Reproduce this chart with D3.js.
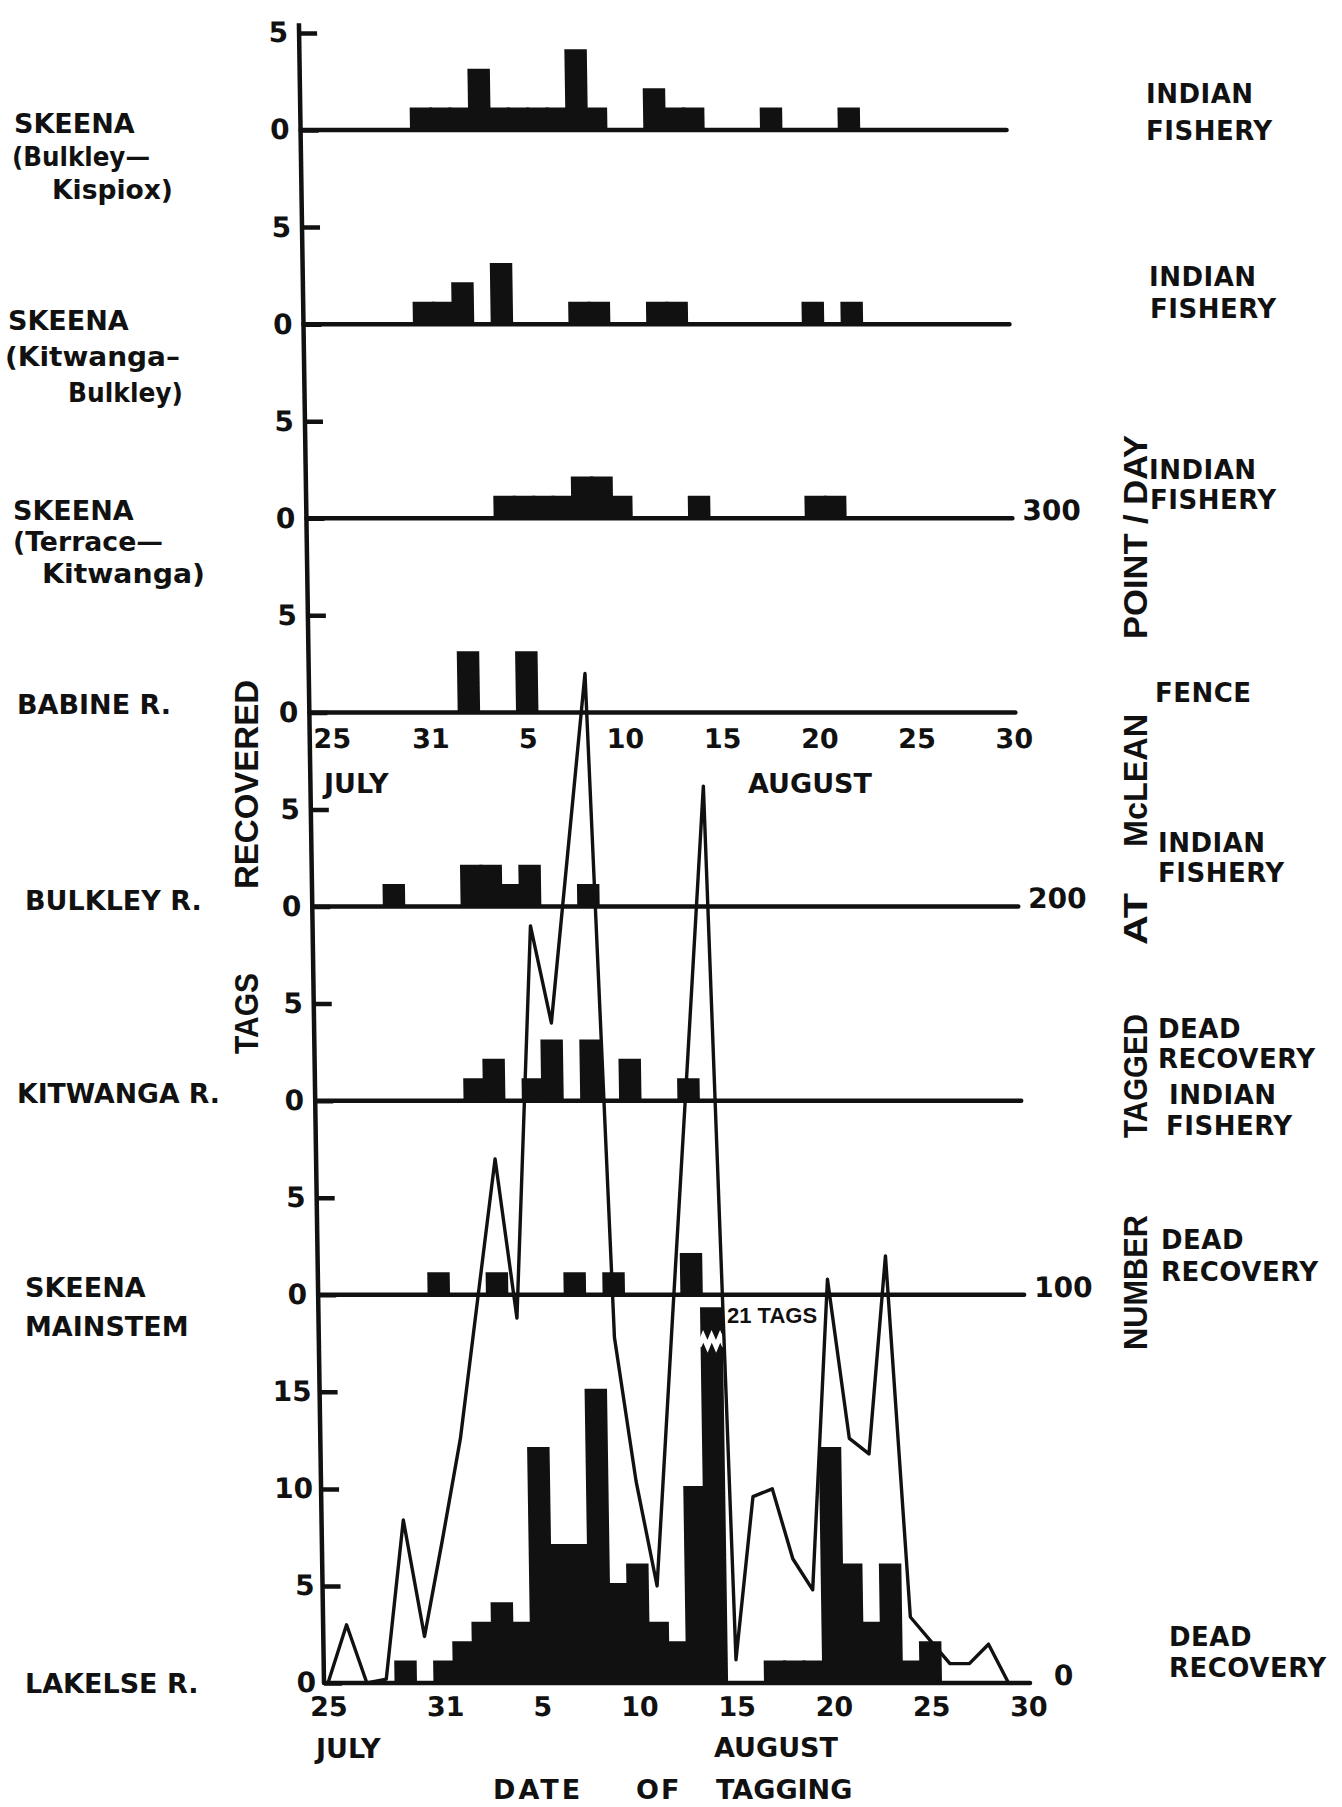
<!DOCTYPE html>
<html><head><meta charset="utf-8">
<script src="https://cdn.jsdelivr.net/npm/d3@7"></script>
<style>body{margin:0;background:#fff} svg{display:block}</style>
</head><body><svg id="chart" width="1342" height="1807"></svg>
<script>
// ================= DATA =================
// categories: dates of tagging (index 0 = July 25 ... index 36 = August 30)
const dates = ["Jul 25","Jul 26","Jul 27","Jul 28","Jul 29","Jul 30","Jul 31",
  "Aug 1","Aug 2","Aug 3","Aug 4","Aug 5","Aug 6","Aug 7","Aug 8","Aug 9","Aug 10",
  "Aug 11","Aug 12","Aug 13","Aug 14","Aug 15","Aug 16","Aug 17","Aug 18","Aug 19","Aug 20",
  "Aug 21","Aug 22","Aug 23","Aug 24","Aug 25","Aug 26","Aug 27","Aug 28","Aug 29","Aug 30"];
const tickDays   = [0, 6, 11, 16, 21, 26, 31, 36];
const tickLabels = ["25","31","5","10","15","20","25","30"];

// tags recovered, by date of tagging (day index into dates, count)
const kispioxDays = [6,7,8,9,10,11,12,13,14,15,18,19,20,24,28];
const kispioxTags = [1,1,1,3,1,1,1,1,4,1,2,1,1,1,1];
const kitBulkDays = [6,7,8,10,14,15,18,19,26,28];
const kitBulkTags = [1,1,2,3,1,1,1,1,1,1];
const terraceDays = [10,11,12,13,14,15,16,20,26,27];
const terraceTags = [1,1,1,1,2,2,1,1,1,1];
const babineDays  = [8,11];
const babineTags  = [3,3];
const bulkleyDays = [4,8,9,10,11,14];
const bulkleyTags = [1,2,2,1,2,1];
const kitwangaDays = [8,9,11,12,14,16,19];
const kitwangaTags = [1,2,1,3,3,2,1];
const mainstemDays = [6,9,13,15,19];
const mainstemTags = [1,1,1,1,2];
const lakelseDays = [4,6,7,8,9,10,11,12,13,14,15,16,17,18,19,20,23,24,25,26,27,28,29,30,31];
const lakelseTags = [1,1,2,3,4,3,12,7,7,15,5,6,3,2,10,21,1,1,1,12,6,3,6,1,2];

// number tagged per day at McLean Point (right scale), day index 0..35
const taggedPerDay = [0,15,0,1,42,12,37,63,99,135,94,195,170,215,260,89,52,25,94,162,
                      231,6,48,50,32,24,104,63,59,110,17,11,5,5,10,0];
const taggedTicks = [0,100,200,300];

// ================= LAYOUT =================
const W = 1342, H = 1807;
const svg = d3.select("#chart");
svg.append("rect").attr("width", W).attr("height", H).attr("fill", "#fff");

const x = d3.scaleLinear().domain([0, 36]).range([328, 1028]);
const y = d3.scaleLinear().domain([0, 80]).range([1683, 130]);        // stacked tag-count scale
const yTagged = d3.scaleLinear().domain([0, 400]).range([1683, 130]); // number tagged / day
const dayW = x(1) - x(0);
const axisX = x(0) - 4;
const INK = "#111";
const FONT = "'DejaVu Sans', 'Liberation Sans', sans-serif";
const NARROW = "'Liberation Sans Narrow', 'Liberation Sans', sans-serif";

const panels = [
  {days: kispioxDays, tags: kispioxTags, base: 80, ticks: [0,5]},
  {days: kitBulkDays, tags: kitBulkTags, base: 70, ticks: [0,5]},
  {days: terraceDays, tags: terraceTags, base: 60, ticks: [0,5]},
  {days: babineDays,  tags: babineTags,  base: 50, ticks: [0,5], xAxis: true},
  {days: bulkleyDays, tags: bulkleyTags, base: 40, ticks: [0,5]},
  {days: kitwangaDays,tags: kitwangaTags,base: 30, ticks: [0,5]},
  {days: mainstemDays,tags: mainstemTags,base: 20, ticks: [0,5]},
  {days: lakelseDays, tags: lakelseTags, base: 0,  ticks: [0,5,10,15], cap: 19.2, xAxis: true}
];

// the scanned original is slightly sheared: plot group skewed about the bottom baseline
const plot = svg.append("g")
  .attr("transform", "translate(0,1683) skewX(0.865) translate(0,-1683)");

// bars
panels.forEach(p => {
  const yp = d3.scaleLinear().domain([0, 10]).range([y(p.base), y(p.base + 10)]);
  const data = p.days.map((d, i) => ({day: d, n: p.tags[i]}));
  const cap = p.cap || 99;
  plot.append("g").selectAll("rect").data(data).join("rect")
    .attr("x", d => x(d.day - 0.5) - 1.5)
    .attr("width", dayW + 3)
    .attr("y", d => yp(Math.min(d.n, cap)) - 3)
    .attr("height", d => y(p.base) - yp(Math.min(d.n, cap)) + 3)
    .attr("fill", INK);
  // broken bar (off-scale value)
  data.filter(d => d.n > cap).forEach(d => {
    const x0 = x(d.day - 0.5) - 3, x1 = x(d.day + 0.5) + 3, yb = yp(17.6);
    const zz = d3.range(0, 7).map(k => [x0 + (x1 - x0) * k / 6, yb + (k % 2 ? -5 : 5)]);
    plot.append("path").attr("d", d3.line()(zz)).attr("fill", "none")
      .attr("stroke", "#fff").attr("stroke-width", 5);
  });
});

// baselines
panels.forEach(p => {
  plot.append("line").attr("x1", axisX).attr("x2", x(36) + 2)
    .attr("y1", y(p.base)).attr("y2", y(p.base))
    .attr("stroke", INK).attr("stroke-width", 4.5).attr("stroke-linecap", "round");
});

// vertical axis line
plot.append("line").attr("x1", axisX).attr("x2", axisX)
  .attr("y1", y(85.5)).attr("y2", y(0))
  .attr("stroke", INK).attr("stroke-width", 4.5);

// left tick axes per panel
panels.forEach(p => {
  const yp = d3.scaleLinear().domain([0, 10]).range([y(p.base), y(p.base + 10)]);
  const g = plot.append("g").attr("transform", `translate(${axisX},0)`)
    .call(d3.axisLeft(yp).tickValues(p.ticks).tickSize(-18).tickPadding(p.base === 0 ? 8 : 11)
      .tickFormat(d3.format("d")));
  g.select(".domain").remove();
  g.selectAll(".tick line").attr("stroke", INK).attr("stroke-width", 4.5);
  g.selectAll(".tick text").attr("font-family", FONT).attr("font-weight", "bold")
    .attr("font-size", 28).attr("fill", INK);
});

// x axes (date labels) under Babine and Lakelse panels
panels.filter(p => p.xAxis).forEach(p => {
  const g = plot.append("g").attr("transform", `translate(0,${y(p.base)})`)
    .call(d3.axisBottom(x).tickValues(tickDays).tickSize(0)
      .tickPadding(p.base === 0 ? 14 : 16).tickFormat((d, i) => tickLabels[i]));
  g.select(".domain").remove();
  g.selectAll(".tick text").attr("font-family", FONT).attr("font-weight", "bold")
    .attr("font-size", 27).attr("fill", INK)
    .attr("dx", (d, i) => (p.base !== 0 && i === 0) ? 18 : 0);
});

// number tagged per day line
const lineData = taggedPerDay.map((n, i) => ({day: i, n}));
plot.append("path").datum(lineData)
  .attr("d", d3.line().x(d => x(d.day)).y(d => yTagged(d.n)))
  .attr("fill", "none").attr("stroke", INK).attr("stroke-width", 3.4).attr("stroke-linejoin", "round");

// right-hand scale for number tagged
const gr = plot.append("g").attr("transform", `translate(${x(36)},0)`)
  .call(d3.axisRight(yTagged).tickValues(taggedTicks).tickSize(0).tickPadding(12));
gr.select(".domain").remove();
gr.selectAll(".tick text").attr("font-family", FONT).attr("font-weight", "bold")
  .attr("font-size", 28).attr("fill", INK).attr("dy", "0.05em")
  .attr("dx", d => d === 0 ? 14 : 0);

// ================= TEXT =================
const txt = (s, px, py, opts = {}) => {
  const t = svg.append("text").text(s)
    .attr("x", px).attr("y", py)
    .attr("font-family", opts.family || FONT).attr("font-weight", "bold")
    .attr("font-size", opts.size || 27).attr("fill", INK)
    .attr("letter-spacing", opts.ls || 0);
  if (opts.len) t.attr("textLength", opts.len).attr("lengthAdjust", "spacingAndGlyphs");
  return t;
};

const leftLabels = [
  ["SKEENA", 14, 133, 0], ["(Bulkley\u2014", 12, 166, 138], ["Kispiox)", 52, 199, 121],
  ["SKEENA", 8, 330, 0], ["(Kitwanga\u2013", 5, 366, 175], ["Bulkley)", 68, 402, 115],
  ["SKEENA", 13, 520, 0], ["(Terrace\u2014", 13, 551, 150], ["Kitwanga)", 42, 583, 163],
  ["BABINE R.", 17, 714, 0],
  ["BULKLEY R.", 25, 910, 0],
  ["KITWANGA R.", 17, 1103, 203],
  ["SKEENA", 25, 1297, 0], ["MAINSTEM", 25, 1336, 0],
  ["LAKELSE R.", 25, 1693, 0]
];
leftLabels.forEach(([s, px, py, len]) => txt(s, px, py, {size: 27, len: len || null}));

const rightLabels = [
  ["INDIAN", 1146, 103], ["FISHERY", 1146, 140],
  ["INDIAN", 1149, 286], ["FISHERY", 1150, 318],
  ["INDIAN", 1149, 479], ["FISHERY", 1150, 509],
  ["FENCE", 1155, 702],
  ["INDIAN", 1158, 852], ["FISHERY", 1158, 882],
  ["DEAD", 1158, 1038], ["RECOVERY", 1158, 1068], ["INDIAN", 1169, 1104], ["FISHERY", 1166, 1135],
  ["DEAD", 1161, 1249], ["RECOVERY", 1161, 1281],
  ["DEAD", 1169, 1646], ["RECOVERY", 1169, 1677]
];
rightLabels.forEach(([s, px, py]) => txt(s, px, py, {size: 26, ls: 0.5}));

// month labels and axis title
txt("JULY", 324, 793, {size: 27});
txt("AUGUST", 748, 793, {size: 27});
txt("JULY", 316, 1758, {size: 27});
txt("AUGUST", 714, 1757, {size: 27});
txt("DATE", 493, 1799, {size: 27, ls: 3});
txt("OF", 636, 1799, {size: 27, ls: 2});
txt("TAGGING", 716, 1799, {size: 27});

txt("21 TAGS", 727, 1323, {size: 22, family: NARROW});

// rotated axis titles
const vtxt = (s, cx, yBottom, len, size, family) => svg.append("text").text(s)
  .attr("transform", `translate(${cx + size * 0.36},${yBottom}) rotate(-90)`)
  .attr("font-family", family).attr("font-weight", "bold").attr("font-size", size)
  .attr("fill", INK).attr("textLength", len).attr("lengthAdjust", "spacingAndGlyphs");

vtxt("TAGS", 246, 1054, 81, 33, NARROW);
vtxt("RECOVERED", 246, 889, 209, 33, NARROW);

vtxt("NUMBER", 1135, 1350, 135, 33, NARROW);
vtxt("TAGGED", 1135, 1138, 124, 33, NARROW);
vtxt("AT", 1135, 945, 52, 33, NARROW);
vtxt("McLEAN", 1135, 847, 133, 33, NARROW);
vtxt("POINT / DAY", 1135, 639, 204, 33, NARROW);
</script>
</body></html>
